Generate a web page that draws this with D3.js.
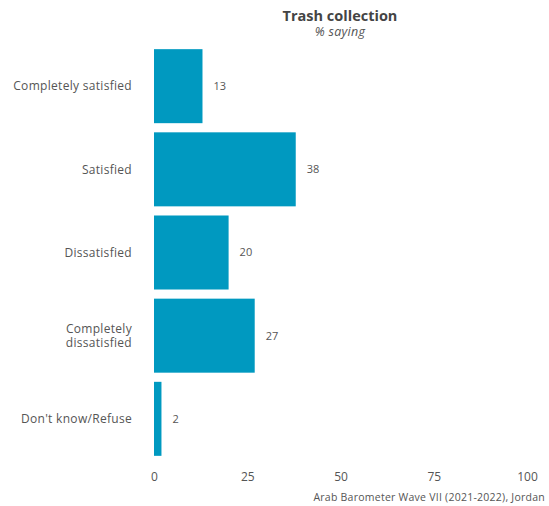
<!DOCTYPE html>
<html><head><meta charset="utf-8">
<script src="https://cdn.jsdelivr.net/npm/d3@7"></script>
<style>body{margin:0;background:#fff}svg{display:block}text{font-family:"Open Sans",sans-serif}</style>
</head><body><svg id="c" width="549" height="506"></svg>
<script>
const categories = ["Completely satisfied","Satisfied","Dissatisfied","Completely\ndissatisfied","Don't know/Refuse"];
const values = [13,38,20,27,2];
const tickValues = [0,25,50,75,100];
const title = "Trash collection";
const subtitle = "% saying";
const caption = "Arab Barometer Wave VII (2021-2022), Jordan";

const svg = d3.select("#c");
const x = d3.scaleLinear().domain([0,100]).range([154,527]);
const y = d3.scaleBand().domain(categories).range([45,460]).paddingInner(0.11).paddingOuter(0.05);
const textCol = "#555";

svg.selectAll("rect.bar").data(values).join("rect").attr("class","bar")
  .attr("x", x(0)).attr("y",(d,i)=>y(categories[i]))
  .attr("width", d=>x(d)-x(0)).attr("height", y.bandwidth()).attr("fill","#0099C0");

svg.selectAll("text.val").data(values).join("text").attr("class","val")
  .attr("x", d=>x(d)+11).attr("y",(d,i)=>y(categories[i])+y.bandwidth()/2)
  .attr("dy","0.35em").attr("font-size",11).attr("fill",textCol).text(d=>d);

const cat = svg.selectAll("text.cat").data(categories).join("text").attr("class","cat")
  .attr("text-anchor","end").attr("font-size",12).attr("letter-spacing",0.3).attr("fill",textCol);
cat.each(function(d){
  const lines = d.split("\n");
  const t = d3.select(this);
  const cy = y(d)+y.bandwidth()/2;
  lines.forEach((l,j)=>{
    t.append("tspan").attr("x",132).attr("y", cy + (j-(lines.length-1)/2)*14.5).attr("dy","0.35em").text(l);
  });
});

const ax = d3.axisBottom(x).tickValues(tickValues).tickSize(0).tickPadding(0);
const g = svg.append("g").attr("transform","translate(0,472)").call(ax);
g.select(".domain").remove();
g.selectAll("text").attr("font-size",12).attr("fill",textCol).attr("font-family","Open Sans, sans-serif");

svg.append("text").attr("x",340).attr("y",21).attr("text-anchor","middle").attr("font-size",14.5)
  .attr("font-weight","bold").attr("fill","#444").text(title);
svg.append("text").attr("x",340).attr("y",36).attr("text-anchor","middle").attr("font-size",12.5)
  .attr("font-style","italic").attr("letter-spacing",0.3).attr("fill",textCol).text(subtitle);
svg.append("text").attr("x",545).attr("y",501).attr("text-anchor","end").attr("font-size",10.5)
  .attr("letter-spacing",0.25).attr("fill",textCol).text(caption);
</script></body></html>
